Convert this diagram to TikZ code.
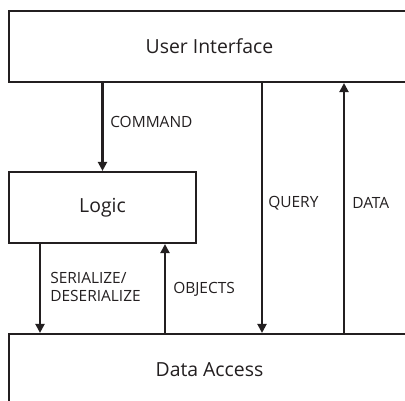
\documentclass[tikz,border=0pt]{standalone}
\usepackage{fontspec}
\setmainfont{Open Sans}
\usetikzlibrary{positioning,arrows.meta,calc}
\definecolor{ink}{HTML}{231F20}

\begin{document}
\begin{tikzpicture}[
  x=0.025cm, y=-0.025cm,
  layer/.style={
    rectangle, draw=ink, line width=1.5pt, fill=white,
    minimum height=1.775cm, inner sep=0pt,
    font=\fontsize{13.8}{16}\selectfont, text=ink
  },
  flow/.style={draw=ink, line width=1.5pt, -{Triangle[length=6.5pt,width=6.5pt]}},
  lbl/.style={font=\fontsize{11}{13}\selectfont, text=ink, anchor=west, align=left, inner sep=0pt}
]
\useasboundingbox (0,0) rectangle (405,400);
\clip (0,0) rectangle (405,400);

% Layers
\node[layer, minimum width=10.025cm] (ui) at (209.5,46.5) {User Interface};
\node[layer, minimum width=4.675cm]  (logic) at (102.5,207.5) {Logic};
\node[layer, minimum width=10.025cm] (da) at (209.5,369.5) {Data Access};

% Columns of the connectors
\coordinate (xser) at (40,0);
\coordinate (xobj) at (165,0);
\coordinate (xqry) at (262,0);
\coordinate (xdat) at (344,0);

% Connectors
\draw[flow] (ui.south -| logic.north) -- (logic.north);
\draw[flow] (logic.south -| xser) -- (da.north -| xser);
\draw[flow] (da.north -| xobj) -- (logic.south -| xobj);
\draw[flow] (ui.south -| xqry) -- (da.north -| xqry);
\draw[flow] (da.north -| xdat) -- (ui.south -| xdat);

% Labels
\node[lbl] (lcmd) at (110,122) {COMMAND};
\node[lbl] (lser) at (50,287) {SERIALIZE/\\DESERIALIZE};
\node[lbl] (lobj) at (173,289) {OBJECTS};
\node[lbl] (lqry) at (268,203) {QUERY};
\node[lbl] (ldat) at (352,203) {DATA};

\end{tikzpicture}
\end{document}
